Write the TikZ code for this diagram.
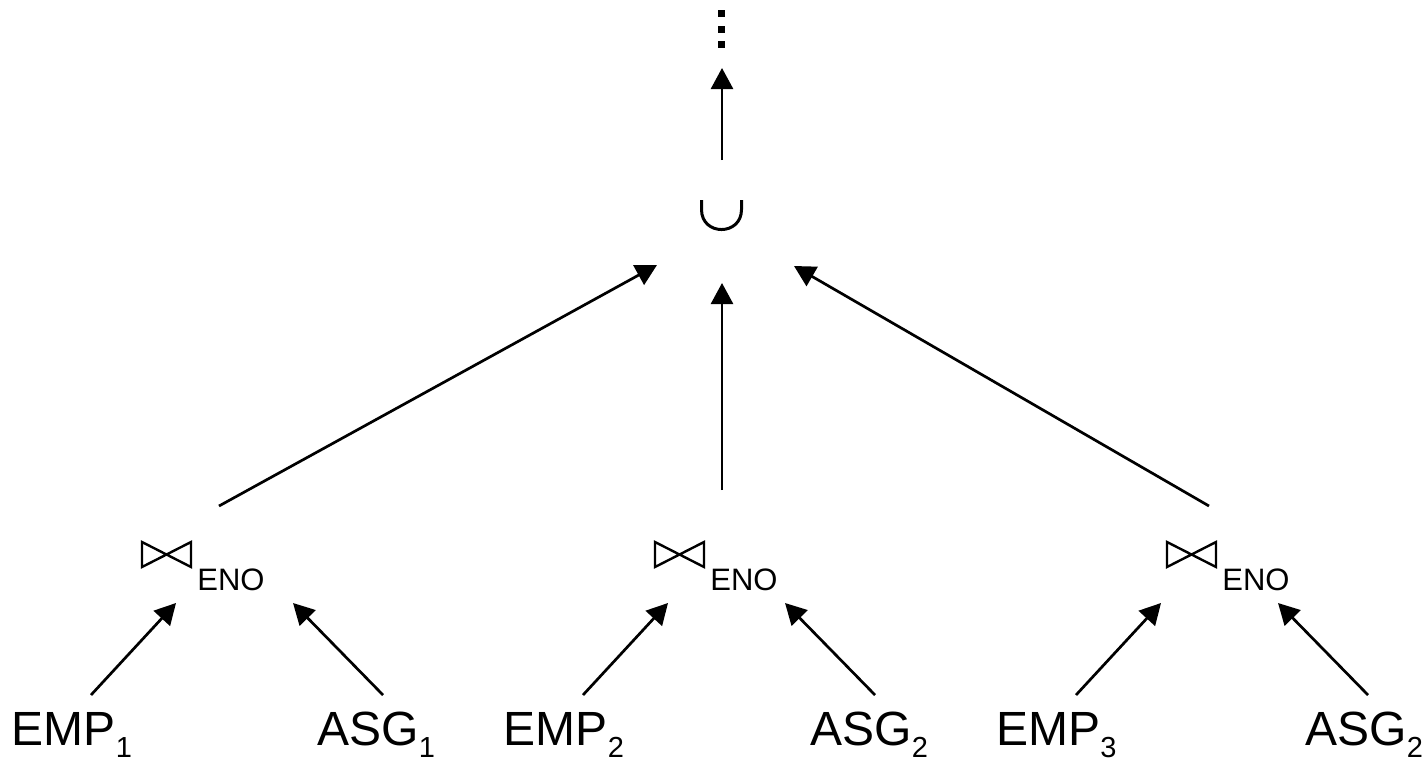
\documentclass[tikz,border=0pt]{standalone}
\usepackage{fontspec}
\setmainfont{Liberation Sans}
\usetikzlibrary{arrows.meta}
\newcommand\mysub[1]{\raisebox{-6pt}[\height][0pt]{\fontsize{14.5}{16}\selectfont #1}}
\tikzset{
  lbl/.style={anchor=base west, inner sep=0pt, font=\fontsize{24}{28}\selectfont},
  eno/.style={anchor=base west, inner sep=0pt, font=\fontsize{15.5}{18}\selectfont},
  arr/.style={line width=1.35pt, -{Triangle[length=10.5pt,width=11pt]}},
  bowtie/.style={line width=1.2pt, line join=miter},
  unionstyle/.style={line width=1.5pt},
}
\begin{document}
\begin{tikzpicture}[x=0.5pt,y=-0.5pt]
\useasboundingbox (0,0) rectangle (1422,760);
% top dots
\fill (718,10) rectangle (724.5,17);
\fill (718,26) rectangle (724.5,33);
\fill (718,41) rectangle (724.5,48);
% union
\draw[unionstyle] (701.5,200) -- (701.5,209.5) .. controls (701.5,236.2) and (741.5,236.2) .. (741.5,209.5) -- (741.5,200);
\coordinate (ubot) at (722,160);
\coordinate (utop) at (722,68);
\coordinate (uinL) at (657,265);
\coordinate (uinC) at (722,283);
\coordinate (uinR) at (794,266);
\draw[arr] (ubot) -- (utop);
% joins
\foreach \i/\dx in {1/0,2/513,3/1025}{
  \draw[bowtie] (142+\dx,542) -- (142+\dx,567) -- (191+\dx,542) -- (191+\dx,567) -- cycle;
  \node[eno] (eno\i) at (197+\dx,590) {ENO};
}
\coordinate (j1out) at (219,506);
\coordinate (j2out) at (722,490);
\coordinate (j3out) at (1209,506);
\draw[arr] (j1out) -- (uinL);
\draw[arr] (j2out) -- (uinC);
\draw[arr] (j3out) -- (uinR);
% leaves
\node[lbl] (emp1) at (11.5,745) {EMP\mysub{1}};
\node[lbl] (asg1) at (317,745) {ASG\mysub{1}};
\node[lbl] (emp2) at (503.5,745) {EMP\mysub{2}};
\node[lbl] (asg2) at (810,745) {ASG\mysub{2}};
\node[lbl] (emp3) at (996,745) {EMP\mysub{3}};
\node[lbl] (asg3) at (1305,745) {ASG\mysub{2}};
\foreach \i/\dx in {1/0,2/492,3/985}{
  \coordinate (e\i s) at (91+\dx,695);
  \coordinate (e\i t) at (176+\dx,603);
  \coordinate (a\i s) at (383+\dx,695);
  \coordinate (a\i t) at (293+\dx,603);
  \draw[arr] (e\i s) -- (e\i t);
  \draw[arr] (a\i s) -- (a\i t);
}
\end{tikzpicture}
\end{document}
